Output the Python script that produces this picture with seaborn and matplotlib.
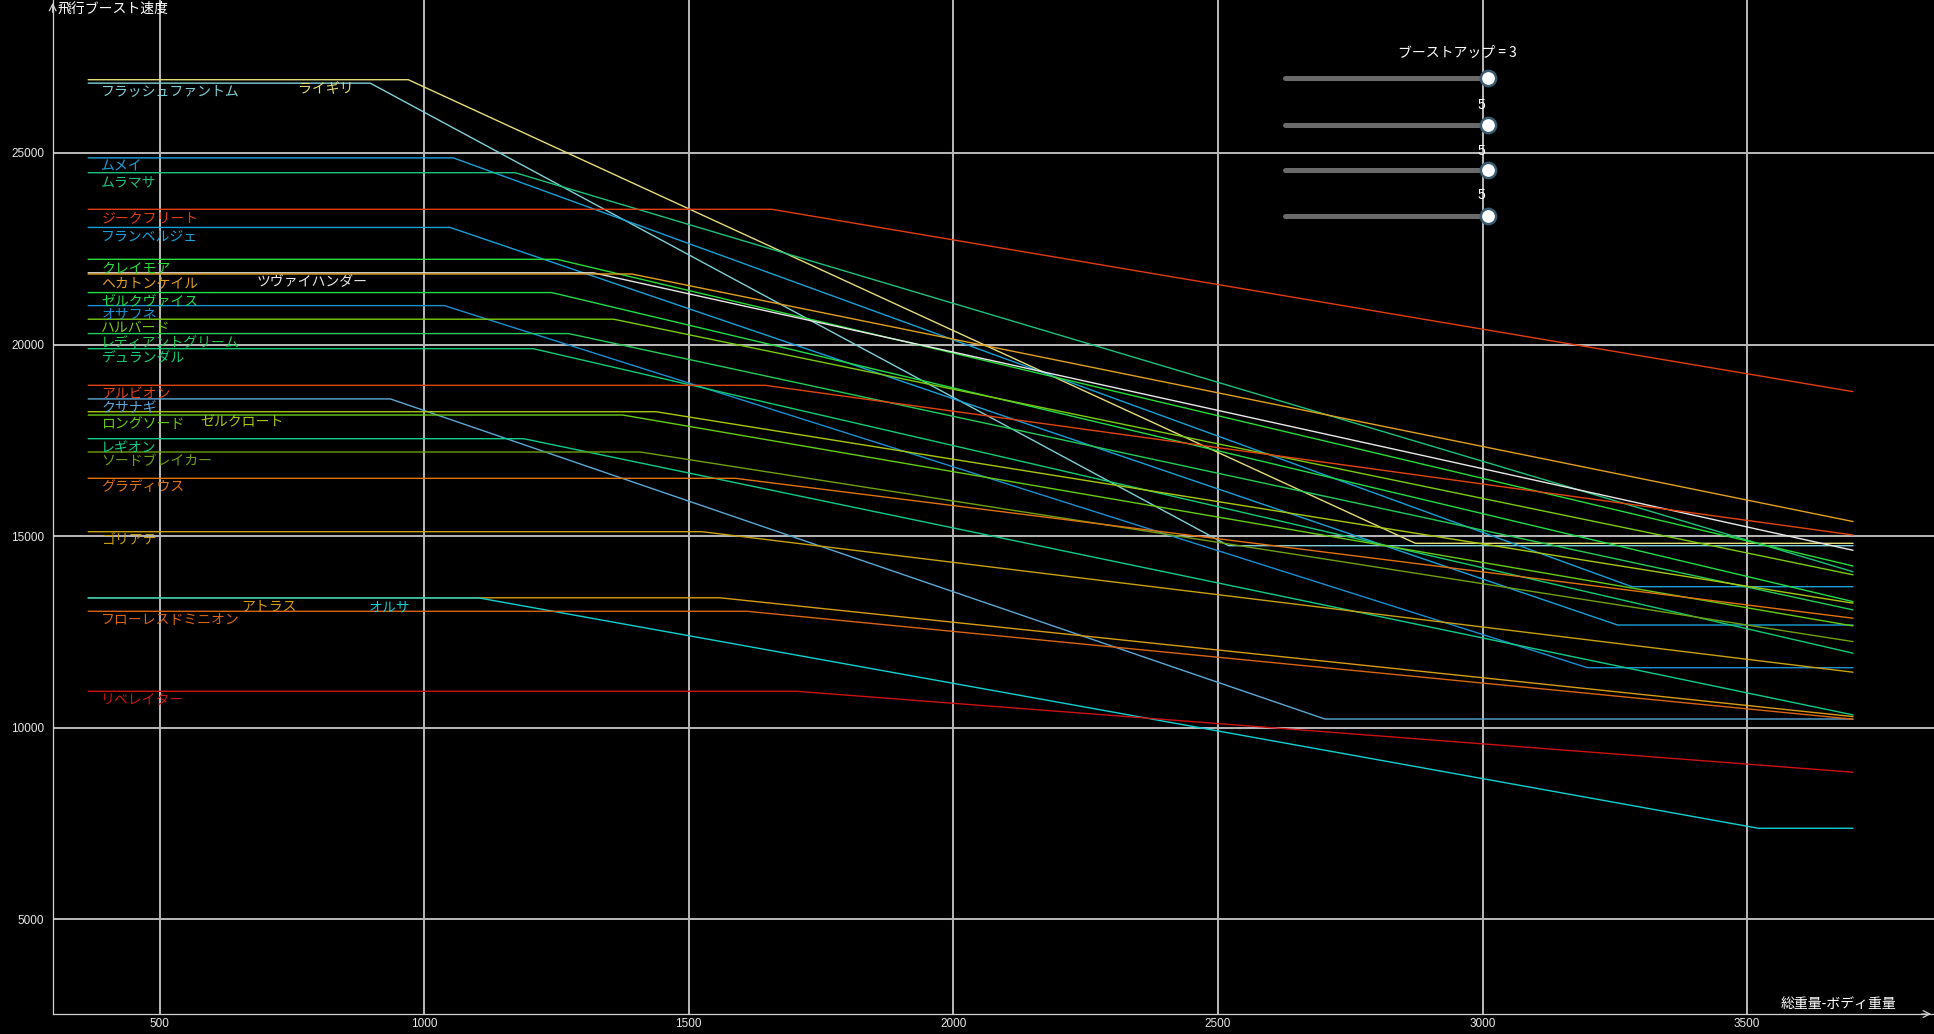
import numpy as np
import pandas as pd
import matplotlib
matplotlib.use("Agg")
import matplotlib.pyplot as plt
import seaborn as sns
from matplotlib.lines import Line2D

# ---------------- data ----------------
names = ["フラッシュファントム", "ライギリ", "ムメイ", "ムラマサ", "ジークフリート", "フランベルジェ",
         "クレイモア", "ツヴァイハンダー", "ヘカトンケイル", "ゼルクヴァイス", "オサフネ", "ハルバード",
         "レディアントグリーム", "デュランダル", "アルビオン", "クサナギ", "ゼルクロート", "ロングソード",
         "レギオン", "ソードブレイカー", "グラディウス", "ゴリアテ", "アトラス", "オルサ",
         "フローレスドミニオン", "リベレイター"]
base_speed = [26820, 26910, 24870, 24483, 23528, 23055,
              22223, 21870, 21840, 21355, 21015, 20660,
              20285, 19891, 18935, 18580, 18246, 18160,
              17542, 17195, 16508, 15115, 13390, 13385,
              13038, 10950]
knee_weight = [898, 970, 1055, 1172, 1657, 1049,
               1251, 1320, 1392, 1241, 1038, 1358,
               1273, 1206, 1644, 936, 1438, 1375,
               1188, 1408, 1588, 1525, 1559, 1104,
               1610, 1704]
end_speed = [14750, 14812, 13680, 14070, 18770, 12680,
             14220, 14630, 15380, 13290, 11566, 13990,
             13075, 11944, 15030, 10227, 13250, 12656,
             10334, 12247, 12857, 11448, 10290, 7376,
             10222, 8838]
floor_weight = [2520, 2873, 3282, None, None, 3255,
                None, None, None, None, 3198, None,
                None, None, None, 2702, None, None,
                None, None, None, None, None, 3521,
                None, None]
line_colors = ["#7fd0d6", "#e6dc78", "#1a9fd6", "#1ec27a", "#e23c10", "#1aa0d8",
               "#28dc3a", "#e8e8e8", "#e0a020", "#22dc48", "#1a8fd0", "#7acc10",
               "#24cc58", "#12cc74", "#e04412", "#5aa8d6", "#a8c810", "#66cc14",
               "#10cc8a", "#6ea012", "#e07212", "#c8a012", "#d89c14", "#12d0d0",
               "#d86414", "#cc1212"]
label_x = [390, 762, 390, 390, 390, 390,
           390, 684, 390, 390, 390, 390,
           390, 390, 390, 390, 577, 390,
           390, 390, 390, 390, 655, 896,
           390, 390]
x_start, x_end = 365, 3700
x_ticks = [500, 1000, 1500, 2000, 2500, 3000, 3500]
y_ticks = [5000, 10000, 15000, 20000, 25000]
slider_values = ["3", "5", "5", "5"]

# ---------------- long-form table ----------------
rows = []
for i, n in enumerate(names):
    pts = [(x_start, base_speed[i]), (knee_weight[i], base_speed[i])]
    if floor_weight[i] is not None:
        pts += [(floor_weight[i], end_speed[i]), (x_end, end_speed[i])]
    else:
        pts += [(x_end, end_speed[i])]
    for k, (x, y) in enumerate(pts):
        rows.append({"name": n, "weight": x, "speed": y, "k": k})
df = pd.DataFrame(rows)

# ---------------- style ----------------
sns.set_theme(style="dark")
plt.rcParams["font.family"] = ["Noto Sans CJK JP", "DejaVu Sans"]
plt.rcParams["axes.unicode_minus"] = False

W, H = 1934, 1034
fig = plt.figure(figsize=(W / 100, H / 100), dpi=100, facecolor="black")
left_px, bottom_px = 52.7, 1014
ax = fig.add_axes([left_px / W, 1 - bottom_px / H, 1 - left_px / W, bottom_px / H])
ax.set_facecolor("black")

palette = dict(zip(names, line_colors))
sns.lineplot(data=df, x="weight", y="speed", hue="name", hue_order=names,
             palette=palette, estimator=None, sort=False, linewidth=1.0,
             legend=False, ax=ax)

ax.set_xlim(298, 3853)
ax.set_ylim(2529, 28990)
ax.set_xticks(x_ticks)
ax.set_yticks(y_ticks)
ax.grid(True, color="#b4b4b4", linewidth=1.45)
ax.set_axisbelow(True)
for s in ["top", "right"]:
    ax.spines[s].set_visible(False)
for s in ["left", "bottom"]:
    ax.spines[s].set_color("#d0d0d0")
    ax.spines[s].set_linewidth(0.9)
ax.tick_params(axis="both", length=0, colors="#e8e8e8", labelsize=8.5)
ax.tick_params(axis="x", pad=3)
ax.tick_params(axis="y", pad=6)
for lab in ax.get_xticklabels() + ax.get_yticklabels():
    lab.set_fontfamily(["Liberation Sans", "DejaVu Sans"])
ax.set_xlabel("")
ax.set_ylabel("")

for i, n in enumerate(names):
    ax.annotate(n, xy=(label_x[i], base_speed[i]), xytext=(0, -1.5),
                textcoords="offset points", ha="left", va="top",
                fontsize=10, color=line_colors[i])

# axis arrows
ax.annotate("", xy=(0, 1.0), xytext=(0, 0.985), xycoords="axes fraction",
            arrowprops=dict(arrowstyle="->", color="#d0d0d0", lw=0.9))
ax.annotate("", xy=(1.0, 0), xytext=(0.992, 0), xycoords="axes fraction",
            arrowprops=dict(arrowstyle="->", color="#d0d0d0", lw=0.9))

# axis titles
fig.text(58 / W, 1 - 2 / H, "飛行ブースト速度", ha="left", va="top",
         fontsize=10, color="white")
fig.text(1896 / W, 1 - 1011 / H, "総重量-ボディ重量", ha="right", va="bottom",
         fontsize=10, color="white")

# sliders (decoration)
track_y = [77.7, 125, 170, 215.7]
for j, ty in enumerate(track_y):
    yy = 1 - ty / H
    fig.add_artist(Line2D([1285 / W, 1488 / W], [yy, yy], transform=fig.transFigure,
                          color="#6a6a6a", linewidth=3.6, solid_capstyle="round"))
    fig.add_artist(Line2D([1488 / W], [yy], transform=fig.transFigure, marker="o",
                          markersize=11, markerfacecolor="white",
                          markeredgecolor="#3a5a70", markeredgewidth=1.8))
fig.text(1457 / W, 1 - 53 / H, "ブーストアップ = " + slider_values[0], ha="center",
         va="center", fontsize=10, color="white")
for j, ty in enumerate([105, 150.7, 195]):
    fig.text(1481 / W, 1 - ty / H, slider_values[j + 1], ha="center", va="center",
             fontsize=10, color="white", family=["Liberation Sans", "DejaVu Sans"])

fig.savefig("out.png", dpi=100, facecolor="black")
